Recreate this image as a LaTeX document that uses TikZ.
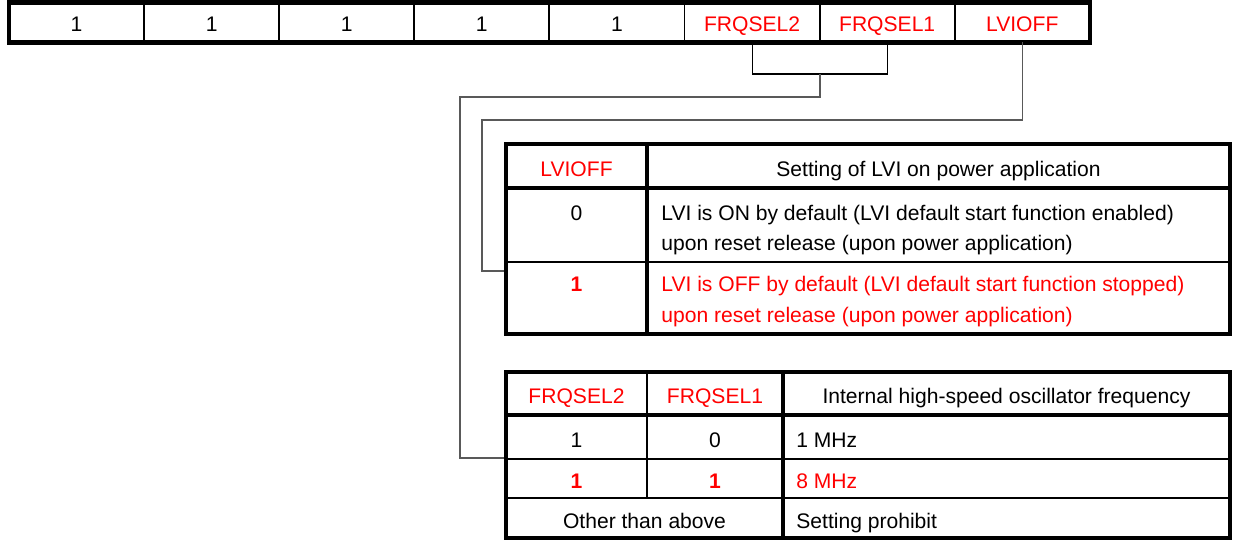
\documentclass[tikz,border=0pt]{standalone}
\usepackage{fontspec}
\setmainfont{Liberation Sans}
\definecolor{setred}{RGB}{255,0,0}

\begin{document}
\begin{tikzpicture}[x=0.02cm, y=-0.02cm, line join=miter,
    frame/.style={line width=2.3pt},
    rule/.style={line width=1.1pt},
    bracket/.style={line width=0.6pt},
    wire/.style={line width=0.8pt, draw=black!65},
    txt/.style={inner sep=0pt, anchor=base, font=\fontsize{12}{14}\selectfont},
    lefttxt/.style={txt, anchor=base west},
    redtxt/.style={txt, text=setred},
    boldred/.style={redtxt, font=\fontsize{12}{14}\selectfont\bfseries}]

    \useasboundingbox (0,0) rectangle (1233,540);

    % Option byte: eight cells in one row
    \draw[frame] (9,2.5) rectangle (1090,42.5);
    \foreach \i in {1,...,7}
        \draw[rule] (9+135.1*\i,2.5) -- (9+135.1*\i,42.5);

    % Fixed bits and the two fields
    \foreach \i in {0,...,4}
        \node[txt] (fix\i) at (76.55+135.1*\i,32) {1};
    \node[redtxt] (frqsel2) at (752.05,32) {FRQSEL2};
    \node[redtxt] (frqsel1) at (887.15,32) {FRQSEL1};
    \node[redtxt] (lvioff) at (1022.25,32) {LVIOFF};

    % Where the leads leave the row and enter the tables
    \coordinate (regbot) at (0,42.5);
    \coordinate (join) at (820,74);
    \coordinate (lviin) at (506,271);
    \coordinate (fqin) at (506,458);

    % FRQSEL bracket, then down to the frequency table
    \draw[bracket] (frqsel2 |- regbot) |- (join) -| (frqsel1 |- regbot);
    \draw[wire] (join) |- (460,97) |- (fqin);

    % LVIOFF lead down to the LVI table
    \draw[wire] (lvioff |- regbot) |- (482,120) |- (lviin);

    % LVI table
    \draw[frame] (506,144) rectangle (1230,334);
    \draw[frame] (506,188) -- (1230,188);
    \draw[frame] (647,144) -- (647,334);
    \draw[rule] (506,262) -- (1230,262);

    \node[redtxt] (lvihead) at (576.5,177) {LVIOFF};
    \node[txt] (lvititle) at (938.5,177) {Setting of LVI on power application};
    \node[txt] (lvizero) at (576.5,221) {0};
    \node[lefttxt] (lvion) at (661,221) {LVI is ON by default (LVI default start function enabled)};
    \node[lefttxt] (lvionb) at (661,251) {upon reset release (upon power application)};
    \node[boldred] (lvione) at (576.5,292) {1};
    \node[lefttxt, text=setred] (lvioffa) at (661,292) {LVI is OFF by default (LVI default start function stopped)};
    \node[lefttxt, text=setred] (lvioffb) at (661,322) {upon reset release (upon power application)};

    % Frequency table
    \draw[frame] (506,372) rectangle (1230,538);
    \draw[frame] (506,415) -- (1230,415);
    \draw[frame] (783,372) -- (783,538);
    \draw[rule] (647,372) -- (647,498);
    \draw[rule] (506,459) -- (1230,459);
    \draw[rule] (506,498) -- (1230,498);

    \node[redtxt] (fqheadb) at (576.5,403) {FRQSEL2};
    \node[redtxt] (fqheada) at (715,403) {FRQSEL1};
    \node[txt] (fqtitle) at (1006.5,403) {Internal high-speed oscillator frequency};
    \node[txt] (fqrowab) at (576.5,447) {1};
    \node[txt] (fqrowaa) at (715,447) {0};
    \node[lefttxt] (fqrowa) at (796,447) {1 MHz};
    \node[boldred] (fqrowbb) at (576.5,488) {1};
    \node[boldred] (fqrowba) at (715,488) {1};
    \node[lefttxt, text=setred] (fqrowb) at (796,488) {8 MHz};
    \node[txt] (fqother) at (644.5,528) {Other than above};
    \node[lefttxt] (fqprohibit) at (796,528) {Setting prohibit};

\end{tikzpicture}
\end{document}
